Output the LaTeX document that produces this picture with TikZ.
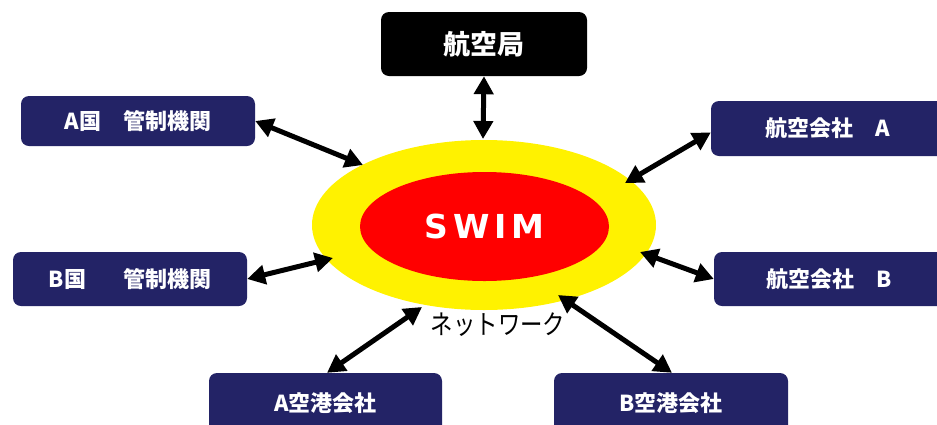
\documentclass[tikz,border=0pt]{standalone}
\usepackage{fontspec}
\newfontfamily\jp{Noto Sans CJK JP}
\newfontfamily\swimfont{DejaVu Sans}
\usetikzlibrary{arrows.meta,shapes.geometric}
\definecolor{navy}{HTML}{232366}
\begin{document}
\begin{tikzpicture}[x=1pt,y=-1pt,
  box/.style={fill=navy, rounded corners=8pt, text=white, inner sep=0pt,
    font=\jp\bfseries\fontsize{22}{24}\selectfont},
  link/.style={line width=5pt,
    {Triangle[length=18pt,width=19pt]}-{Triangle[length=18pt,width=19pt]}}]
\useasboundingbox (0,0) rectangle (937,424);
% network
\node[ellipse, fill=yellow, inner sep=0pt, minimum width=344pt, minimum height=170pt] (net) at (484,225) {};
\node[ellipse, fill=red, inner sep=0pt, minimum width=249pt, minimum height=109pt] (swim) at (484.5,226.5)
  {\swimfont\bfseries\fontsize{33}{36}\selectfont\color{white}S\hspace{5pt}W\hspace{5pt}I\hspace{5pt}M};
\node[font=\jp\fontsize{27}{30}\selectfont, xscale=0.83] (nw) at (498,325) {ネットワーク};
% boxes
\node[box, fill=black, minimum width=206pt, minimum height=64pt, font=\jp\bfseries\fontsize{27}{30}\selectfont] (cab) at (484,44) {航空局};
\node[box, minimum width=234pt, minimum height=50pt] (ca) at (138,121) {A国　管制機関};
\node[box, minimum width=234pt, minimum height=54pt] (cb) at (130,279) {B国\hspace{37pt}管制機関};
\node[box, minimum width=234pt, minimum height=55pt] (aa) at (828,128.5) {航空会社　A};
\node[box, minimum width=231pt, minimum height=54pt] (ab) at (829.5,279) {航空会社　B};
\node[box, minimum width=233pt, minimum height=60pt] (pa) at (325.5,403) {A空港会社};
\node[box, minimum width=234pt, minimum height=60pt] (pb) at (671,403) {B空港会社};
% endpoints on the network
\coordinate (e0) at (483,139);
\coordinate (e1) at (363,165);
\coordinate (e2) at (333,258);
\coordinate (e3) at (625,183);
\coordinate (e4) at (640,252);
\coordinate (e5) at (422,307);
\coordinate (e6) at (558,295);
% connectors
\draw[link] (cab.south) -- (e0);
\draw[link] (ca.east) -- (e1);
\draw[link] (cb.east) -- (e2);
\draw[link] ([yshift=-4pt]aa.west) -- (e3);
\draw[link] (ab.west) -- (e4);
\draw[link] ([xshift=1.5pt]pa.north) -- (e5);
\draw[link] ([xshift=1pt]pb.north) -- (e6);
\end{tikzpicture}
\end{document}
